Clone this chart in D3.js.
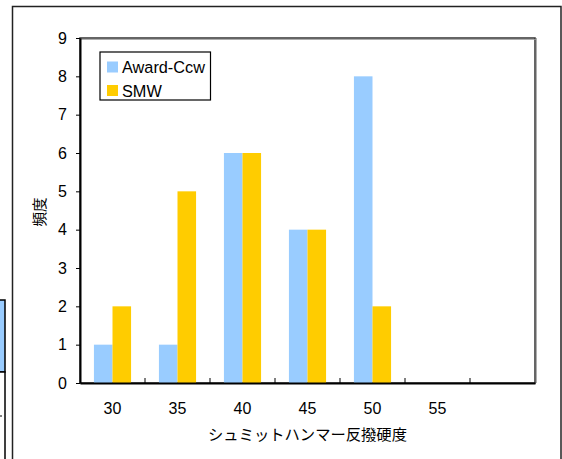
<!DOCTYPE html>
<html>
<head>
<meta charset="utf-8">
<script src="https://cdn.jsdelivr.net/npm/d3@7"></script>
<style>
  html, body { margin: 0; padding: 0; background: #fff; }
  svg { display: block; }
</style>
</head>
<body>
<svg id="chart" width="562" height="459"></svg>
<script>
const categories = ["30", "35", "40", "45", "50", "55", ""];
const seriesNames = ["Award-Ccw", "SMW"];
const awardCcw = [1, 1, 6, 4, 8, 0, 0];
const smw = [2, 5, 6, 4, 2, 0, 0];
const yTicks = [0, 1, 2, 3, 4, 5, 6, 7, 8, 9];
const xTitle = "シュミットハンマー反撥硬度";
const yTitle = "頻度";
const colors = ["#99CCFF", "#FFCC00"];

const svg = d3.select("#chart");
const latin = "'Liberation Sans', Arial, sans-serif";
const cjk = "'Noto Sans CJK JP', sans-serif";

// left cut-off neighbour artefact
svg.append("rect").attr("x", -2).attr("y", 300).attr("width", 7).attr("height", 72)
  .attr("fill", "#99CCFF").attr("stroke", "#000").attr("stroke-width", 1.5);
svg.append("rect").attr("x", -2).attr("y", 372).attr("width", 7).attr("height", 100)
  .attr("fill", "#fff").attr("stroke", "#000").attr("stroke-width", 1.5);
svg.append("line").attr("x1", 0).attr("x2", 2).attr("y1", 416).attr("y2", 416)
  .attr("stroke", "#000").attr("stroke-width", 1);

// outer chart frame
svg.append("rect").attr("x", 12.5).attr("y", 6.5).attr("width", 548.5).attr("height", 470)
  .attr("fill", "#fff").attr("stroke", "#222").attr("stroke-width", 1.5);

const L = 80, R = 535, T = 38, B = 383;

const x0 = d3.scaleBand().domain(categories).range([L, R]).paddingInner(0).paddingOuter(0);
const x1 = d3.scaleBand().domain(seriesNames).range([0, x0.bandwidth()]).paddingInner(0).paddingOuter(0.75);
const y = d3.scaleLinear().domain([0, 9]).range([B, T]);

// plot area frame (top/right)
svg.append("rect").attr("x", L).attr("y", T).attr("width", R - L).attr("height", B - T)
  .attr("fill", "#fff").attr("stroke", "#333").attr("stroke-width", 1.5);
svg.append("line").attr("x1", L).attr("x2", R + 1).attr("y1", T + 1.5).attr("y2", T + 1.5)
  .attr("stroke", "#999").attr("stroke-width", 0.8);
svg.append("line").attr("x1", R + 1.5).attr("x2", R + 1.5).attr("y1", T).attr("y2", B)
  .attr("stroke", "#999").attr("stroke-width", 0.8);

// bars
const data = categories.map((c, i) => ({ cat: c, vals: [awardCcw[i], smw[i]] }));
const g = svg.append("g");
data.forEach(d => {
  d.vals.forEach((v, j) => {
    if (v > 0) {
      g.append("rect")
        .attr("x", x0(d.cat) + x1(seriesNames[j]))
        .attr("y", y(v))
        .attr("width", x1.bandwidth())
        .attr("height", y(0) - y(v))
        .attr("fill", colors[j]);
    }
  });
});

// y axis
const yAxis = svg.append("g").attr("transform", `translate(${L},0)`)
  .call(d3.axisLeft(y).tickValues(yTicks).tickFormat(d3.format("d")).tickSize(4).tickSizeOuter(0).tickPadding(9));
yAxis.select(".domain").attr("stroke", "#000").attr("stroke-width", 2);
yAxis.selectAll(".tick line").attr("stroke", "#000").attr("stroke-width", 1);
yAxis.selectAll("text").attr("font-family", latin).attr("font-size", 16).attr("fill", "#000");

// x axis
const xAxis = svg.append("g").attr("transform", `translate(0,${B})`)
  .call(d3.axisBottom(x0).tickSize(0).tickSizeOuter(0).tickPadding(20));
xAxis.select(".domain").attr("stroke", "#000").attr("stroke-width", 2);
xAxis.selectAll("text").attr("font-family", latin).attr("font-size", 16).attr("fill", "#000");
// inward tick marks at category boundaries
xAxis.selectAll(".bnd").data(categories.slice(1)).enter().append("line")
  .attr("class", "bnd")
  .attr("x1", d => x0(d)).attr("x2", d => x0(d))
  .attr("y1", 0).attr("y2", -5)
  .attr("stroke", "#000").attr("stroke-width", 1);

// axis titles
svg.append("text").attr("x", (L + R) / 2).attr("y", 440).attr("text-anchor", "middle")
  .attr("font-family", cjk).attr("font-size", 15.3).attr("fill", "#000").text(xTitle);
svg.append("text").attr("transform", "translate(45,212) rotate(-90)").attr("text-anchor", "middle")
  .attr("font-family", cjk).attr("font-size", 14.5).attr("fill", "#000").text(yTitle);

// legend
const lg = svg.append("g");
lg.append("rect").attr("x", 100).attr("y", 52).attr("width", 110.5).attr("height", 48)
  .attr("fill", "#fff").attr("stroke", "#000").attr("stroke-width", 1.2);
seriesNames.forEach((s, i) => {
  lg.append("rect").attr("x", 107).attr("y", 61.5 + i * 23.5).attr("width", 11).attr("height", 11)
    .attr("fill", colors[i]);
  lg.append("text").attr("x", 122).attr("y", 73 + i * 23.5)
    .attr("font-family", latin).attr("font-size", 16.3).attr("fill", "#000").text(s);
});
</script>
</body>
</html>
